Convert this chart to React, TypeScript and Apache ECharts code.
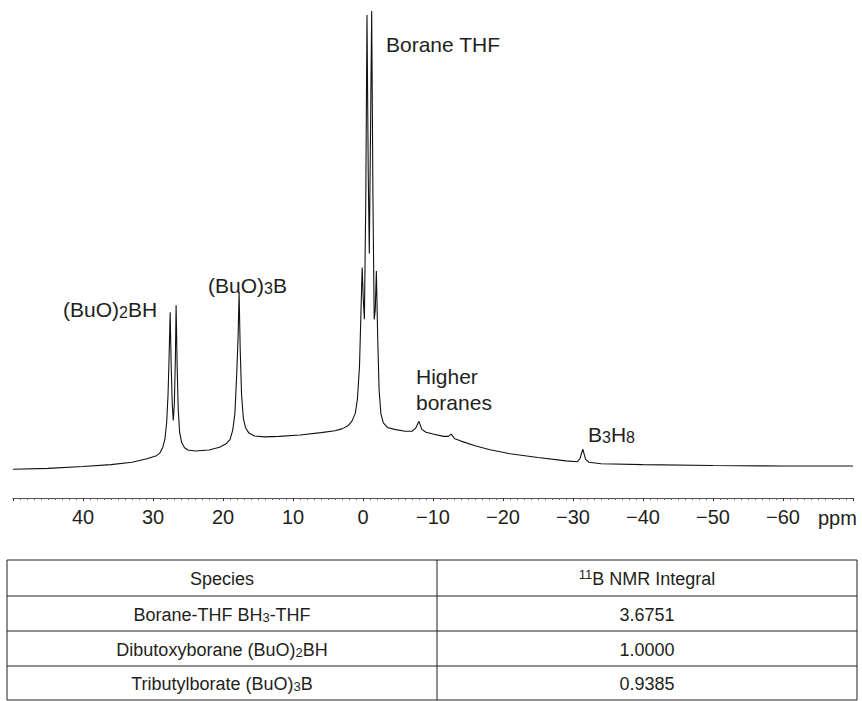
import React, { useEffect, useRef } from "react";
import * as echarts from "echarts";

// Chemical shift (ppm) and relative intensity
const shiftPpm = [
  50, 45, 40, 36, 33, 31, 29.5, 29.0, 28.6, 28.3, 28.05, 27.85, 27.7, 27.55, 27.4, 27.25, 27.1,
  26.95, 26.8, 26.7, 26.55, 26.4, 26.2, 25.9, 25.5, 25.0, 24, 22, 20.5, 19.5, 19.0, 18.6, 18.3,
  18.05, 17.85, 17.7, 17.55, 17.35, 17.1, 16.8, 16.3, 15.5, 14, 12, 9, 6, 4, 3, 2.2, 1.6, 1.1,
  0.8, 0.5, 0.3, 0.12, -0.05, -0.2, -0.4, -0.57, -0.75, -0.9, -1.05, -1.24, -1.42, -1.6, -1.75,
  -1.91, -2.1, -2.3, -2.55, -2.9, -3.5, -4.5, -6, -7.0, -7.5, -8.0, -8.4, -9, -10, -11.5, -12.2,
  -12.6, -13.1, -14, -16, -18, -21, -25, -29, -30.6, -31.0, -31.4, -31.8, -32.3, -34, -40, -50,
  -60, -70,
];
const intensity = [
  2.1, 2.3, 2.7, 3.1, 3.6, 4.3, 5.0, 5.6, 6.8, 8.5, 12, 18, 26, 35.5, 24, 16, 12.5,
  16, 26, 37, 24, 15, 10, 7.8, 6.7, 6.2, 6.0, 6.2, 6.8, 7.6, 8.4, 10.5, 14,
  22, 30, 39.8, 28, 18, 13, 11, 9.8, 9.2, 9.0, 9.1, 9.4, 9.9, 10.3, 10.7, 11.3, 12.3, 14,
  17, 24, 35, 45, 38, 34, 60, 98.7, 65, 48, 70, 99.6, 60, 34, 36,
  44.3, 30, 19, 14, 12, 11, 10.6, 10.2, 10.2, 10.8, 12.3, 10.6, 10, 9.6, 9.1, 9.1,
  9.6, 8.6, 8.1, 7.1, 6.3, 5.4, 4.6, 3.9, 3.7, 4.4, 6.4, 4.2, 3.6, 3.3, 3.1, 2.9,
  2.8, 2.8,
];

// Table content
const tableHeader = ["{t|Species}", "{sup|11}{t|B NMR Integral}"];
const speciesRich = [
  "{t|Borane-THF BH}{sub|3}{t|-THF}",
  "{t|Dibutoxyborane (BuO)}{sub|2}{t|BH}",
  "{t|Tributylborate (BuO)}{sub|3}{t|B}",
];
const integrals = ["3.6751", "1.0000", "0.9385"];

const FONT = "'Liberation Sans', Arial, Helvetica, sans-serif";
const INK = "#231f20";

export default function App() {
  const ref = useRef<HTMLDivElement>(null);
  useEffect(() => {
    document.body.style.margin = "0";
    if (!ref.current) return;
    const chart = echarts.init(ref.current, null, { renderer: "svg" });

    const bigRich = {
      t: { fontSize: 21, fontFamily: FONT, color: INK, lineHeight: 24, verticalAlign: "bottom" },
      sub: { fontSize: 16, fontFamily: FONT, color: INK, lineHeight: 8, verticalAlign: "bottom" },
    };
    const smallRich = {
      t: { fontSize: 18, fontFamily: FONT, color: INK, lineHeight: 20, verticalAlign: "bottom" },
      sub: { fontSize: 13, fontFamily: FONT, color: INK, lineHeight: 6, verticalAlign: "bottom" },
      sup: { fontSize: 13, fontFamily: FONT, color: INK, lineHeight: 6, verticalAlign: "top" },
    };

    const label = (x: number, y: number, text: string) => ({
      type: "text",
      x,
      y,
      style: { text, rich: bigRich, fill: INK, font: `21px ${FONT}`, verticalAlign: "middle" },
    });

    const tableLeft = 7, tableMid = 437, tableRight = 857;
    const rowsY = [560, 596, 631, 666, 700];
    const leftC = (tableLeft + tableMid) / 2;
    const rightC = (tableMid + tableRight) / 2;
    const tableEls: any[] = [];
    rowsY.forEach((y) =>
      tableEls.push({ type: "line", shape: { x1: tableLeft, y1: y, x2: tableRight, y2: y }, style: { stroke: INK, lineWidth: 1 } })
    );
    [tableLeft, tableMid, tableRight].forEach((x) =>
      tableEls.push({ type: "line", shape: { x1: x, y1: rowsY[0], x2: x, y2: rowsY[rowsY.length - 1] }, style: { stroke: INK, lineWidth: 1 } })
    );
    const cell = (x: number, y: number, text: string) => ({
      type: "text",
      x,
      y,
      style: { text, rich: smallRich, font: `18px ${FONT}`, fill: INK, align: "center", verticalAlign: "middle" },
    });
    tableEls.push(cell(leftC, (rowsY[0] + rowsY[1]) / 2, tableHeader[0]));
    tableEls.push(cell(rightC, (rowsY[0] + rowsY[1]) / 2, tableHeader[1]));
    speciesRich.forEach((s, i) => {
      const cy = (rowsY[i + 1] + rowsY[i + 2]) / 2;
      tableEls.push(cell(leftC, cy, s));
      tableEls.push(cell(rightC, cy, "{t|" + integrals[i] + "}"));
    });

    chart.setOption({
      animation: false,
      grid: { left: 13, right: 9, top: 9, height: 489 },
      xAxis: {
        type: "value",
        inverse: true,
        min: -70,
        max: 50,
        interval: 10,
        axisLine: { show: true, onZero: false, lineStyle: { color: "#555", width: 1 } },
        axisTick: { show: true, length: 3, lineStyle: { color: "#333" } },
        minorTick: { show: true, splitNumber: 10, length: 2, lineStyle: { color: "#666" } },
        splitLine: { show: false },
        axisLabel: {
          showMinLabel: false,
          showMaxLabel: false,
          margin: 9,
          fontSize: 20,
          fontFamily: FONT,
          color: INK,
          formatter: (v: number) => (v < 0 ? "\u2212" + Math.abs(v) : String(v)),
        },
      },
      yAxis: { type: "value", min: -4, max: 100, show: false },
      series: [
        {
          type: "line",
          data: shiftPpm.map((p, i) => [p, intensity[i]]),
          symbol: "none",
          lineStyle: { color: "#111", width: 1.1 },
        },
      ],
      graphic: [
        label(386, 43, "{t|Borane THF}"),
        label(208, 284, "{t|(BuO)}{sub|3}{t|B}"),
        label(63, 308, "{t|(BuO)}{sub|2}{t|BH}"),
        label(416, 375, "{t|Higher}"),
        label(416, 401, "{t|boranes}"),
        label(588, 433, "{t|B}{sub|3}{t|H}{sub|8}"),
        {
          type: "text",
          x: 818,
          y: 518,
          style: { text: "ppm", font: `20px ${FONT}`, fill: INK, verticalAlign: "middle" },
        },
        ...tableEls,
      ],
    });
    return () => chart.dispose();
  }, []);
  return <div ref={ref} style={{ width: 862, height: 701 }} />;
}
